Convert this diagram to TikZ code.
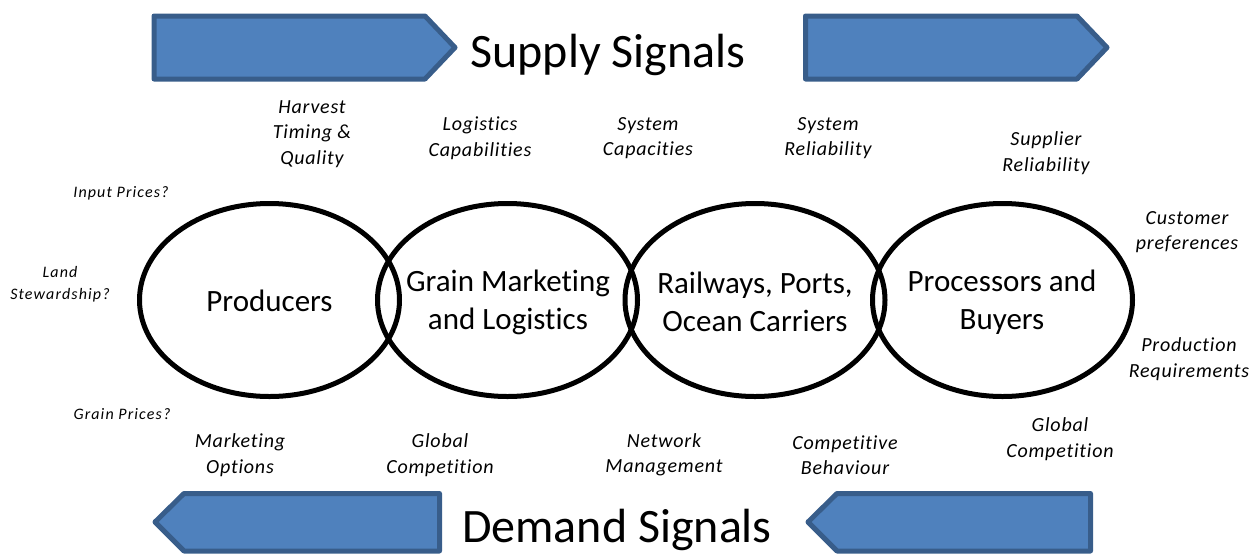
\documentclass[tikz,border=0pt]{standalone}
\usepackage{fontspec}
\setmainfont{Carlito}[Ligatures=NoCommon]
\newfontfamily\factorfont{Carlito}[Ligatures=NoCommon,LetterSpace=4]
\newfontfamily\smallfont{Carlito}[Ligatures=NoCommon,LetterSpace=7]
\usetikzlibrary{shapes.geometric}
\definecolor{arrowfill}{HTML}{4F81BD}
\definecolor{arrowline}{HTML}{385D8A}
\tikzset{
  signal/.style={fill=arrowfill, draw=arrowline, line width=5pt, line join=round},
  actor/.style={ellipse, draw=black, line width=5pt, minimum width=260pt, minimum height=193pt, inner sep=0pt},
  actortext/.style={align=center, inner sep=0pt, font=\fontsize{31}{38}\selectfont},
  factor/.style={align=center, inner sep=0pt, font=\factorfont\fontsize{20}{25.5}\selectfont\itshape},
  smallfactor/.style={align=center, inner sep=0pt, font=\smallfont\fontsize{16}{22}\selectfont\itshape},
  title/.style={inner sep=0pt, font=\fontsize{48}{56}\selectfont},
}
\begin{document}
\begin{tikzpicture}[x=1pt,y=-1pt]
\useasboundingbox (0,0) rectangle (1253,555);
% signal arrows
\draw[signal] (154,16) -- (425,16) -- (455,47.5) -- (425,79) -- (154,79) -- cycle;
\draw[signal] (805.5,16) -- (1077,16) -- (1107,47.5) -- (1077,79) -- (805.5,79) -- cycle;
\draw[signal] (155,522) -- (184,493.5) -- (439.5,493.5) -- (439.5,551) -- (184,551) -- cycle;
\draw[signal] (808,522) -- (837,493.5) -- (1090.5,493.5) -- (1090.5,551) -- (837,551) -- cycle;
\node[title] (supply) at (608,55) {Supply Signals};
\node[title] (demand) at (617,530) {Demand Signals};
% actors
\node[actor] (e1) at (269.5,300) {};
\node[actor] (e2) at (507.5,300) {};
\node[actor] (e3) at (755,300) {};
\node[actor] (e4) at (1002.5,300) {};
\node[actortext] (t1) at (269.5,301) {Producers};
\node[actortext] (t2) at (508,302) {Grain Marketing\\and Logistics};
\node[actortext] (t3) at (755,302) {Railways, Ports,\\Ocean Carriers};
\node[actortext] (t4) at (1002,302) {Processors and\\Buyers};
% supply factors
\node[factor] (f1) at (312,134) {Harvest\\Timing \&\\Quality};
\node[factor] (f2) at (480,138) {Logistics\\Capabilities};
\node[factor] (f3) at (648,138) {System\\Capacities};
\node[factor] (f4) at (828,138) {System\\Reliability};
\node[factor] (f5) at (1046,153) {Supplier\\Reliability};
\node[factor] (f6) at (1187,232) {Customer\\preferences};
\node[factor] (f7) at (1189,359) {Production\\Requirements};
% demand factors
\node[factor] (g1) at (1060,439) {Global\\Competition};
\node[factor] (g2) at (240,455) {Marketing\\Options};
\node[factor] (g3) at (440,455) {Global\\Competition};
\node[factor] (g4) at (664,455) {Network\\Management};
\node[factor] (g5) at (845,455) {Competitive\\Behaviour};
% producer questions
\node[smallfactor] (q1) at (121,193) {Input Prices?};
\node[smallfactor] (q2) at (60,284) {Land\\Stewardship?};
\node[smallfactor] (q3) at (122,414) {Grain Prices?};
\end{tikzpicture}
\end{document}
